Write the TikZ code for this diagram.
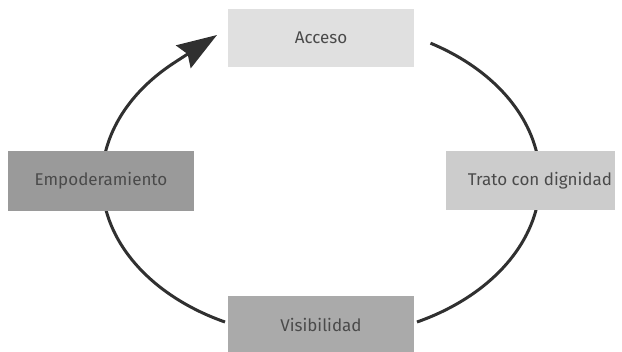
\documentclass[tikz,border=0pt]{standalone}
\usepackage{fontspec}
\setmainfont{Fira Sans}
\usetikzlibrary{arrows.meta}
\definecolor{txt}{HTML}{4A4A4A}
\definecolor{linec}{HTML}{303030}
\definecolor{cAcc}{HTML}{E0E0E0}
\definecolor{cEmp}{HTML}{9A9A9A}
\definecolor{cTra}{HTML}{CCCCCC}
\definecolor{cVis}{HTML}{AAAAAA}
\begin{document}
\begin{tikzpicture}[x=1pt,y=1pt,
  lbl/.style={text=txt, font=\fontsize{17}{19}\selectfont},
  box/.style={lbl, draw=none, minimum height=58pt, inner sep=0pt},
  cycleline/.style={draw=linec, line width=3pt},
  ]
\useasboundingbox (0,0) rectangle (622,-352);
% elliptical cycle (drawn first so boxes cover ends)
\coordinate (c1) at ({321+219*cos(60)},{-180+158*sin(60)});
\coordinate (c2) at ({321+219*cos(-10)},{-180+158*sin(-10)});
\coordinate (c3) at ({321+219*cos(-116)},{-180+158*sin(-116)});
\coordinate (c4) at ({321+219*cos(170)},{-180+158*sin(170)});
\coordinate (tip) at (217,-35);
\draw[cycleline] (c1) arc[start angle=60, end angle=10, x radius=219, y radius=158];
\draw[cycleline] (c2) arc[start angle=-10, end angle=-64, x radius=219, y radius=158];
\draw[cycleline] (c3) arc[start angle=-116, end angle=-170, x radius=219, y radius=158];
\draw[cycleline, -{Stealth[length=40pt, width=27pt, inset=5pt]}]
  (c4) arc[start angle=170, end angle=132, x radius=219, y radius=158] -- (tip);
% boxes
\node[box, fill=cAcc, minimum width=186pt] (acceso) at (321,-38) {Acceso};
\node[box, fill=cEmp, minimum width=186pt, minimum height=60pt] (empod) at (101,-181) {Empoderamiento};
\node[box, fill=cTra, minimum width=169pt, minimum height=59pt] (trato) at (530.5,-180.5) {};
\node[lbl, inner sep=0pt] (tratotxt) at (540,-180.5) {Trato con dignidad};
\node[box, fill=cVis, minimum width=186pt] (visib) at (321,-325) {Visibilidad};
\end{tikzpicture}
\end{document}
